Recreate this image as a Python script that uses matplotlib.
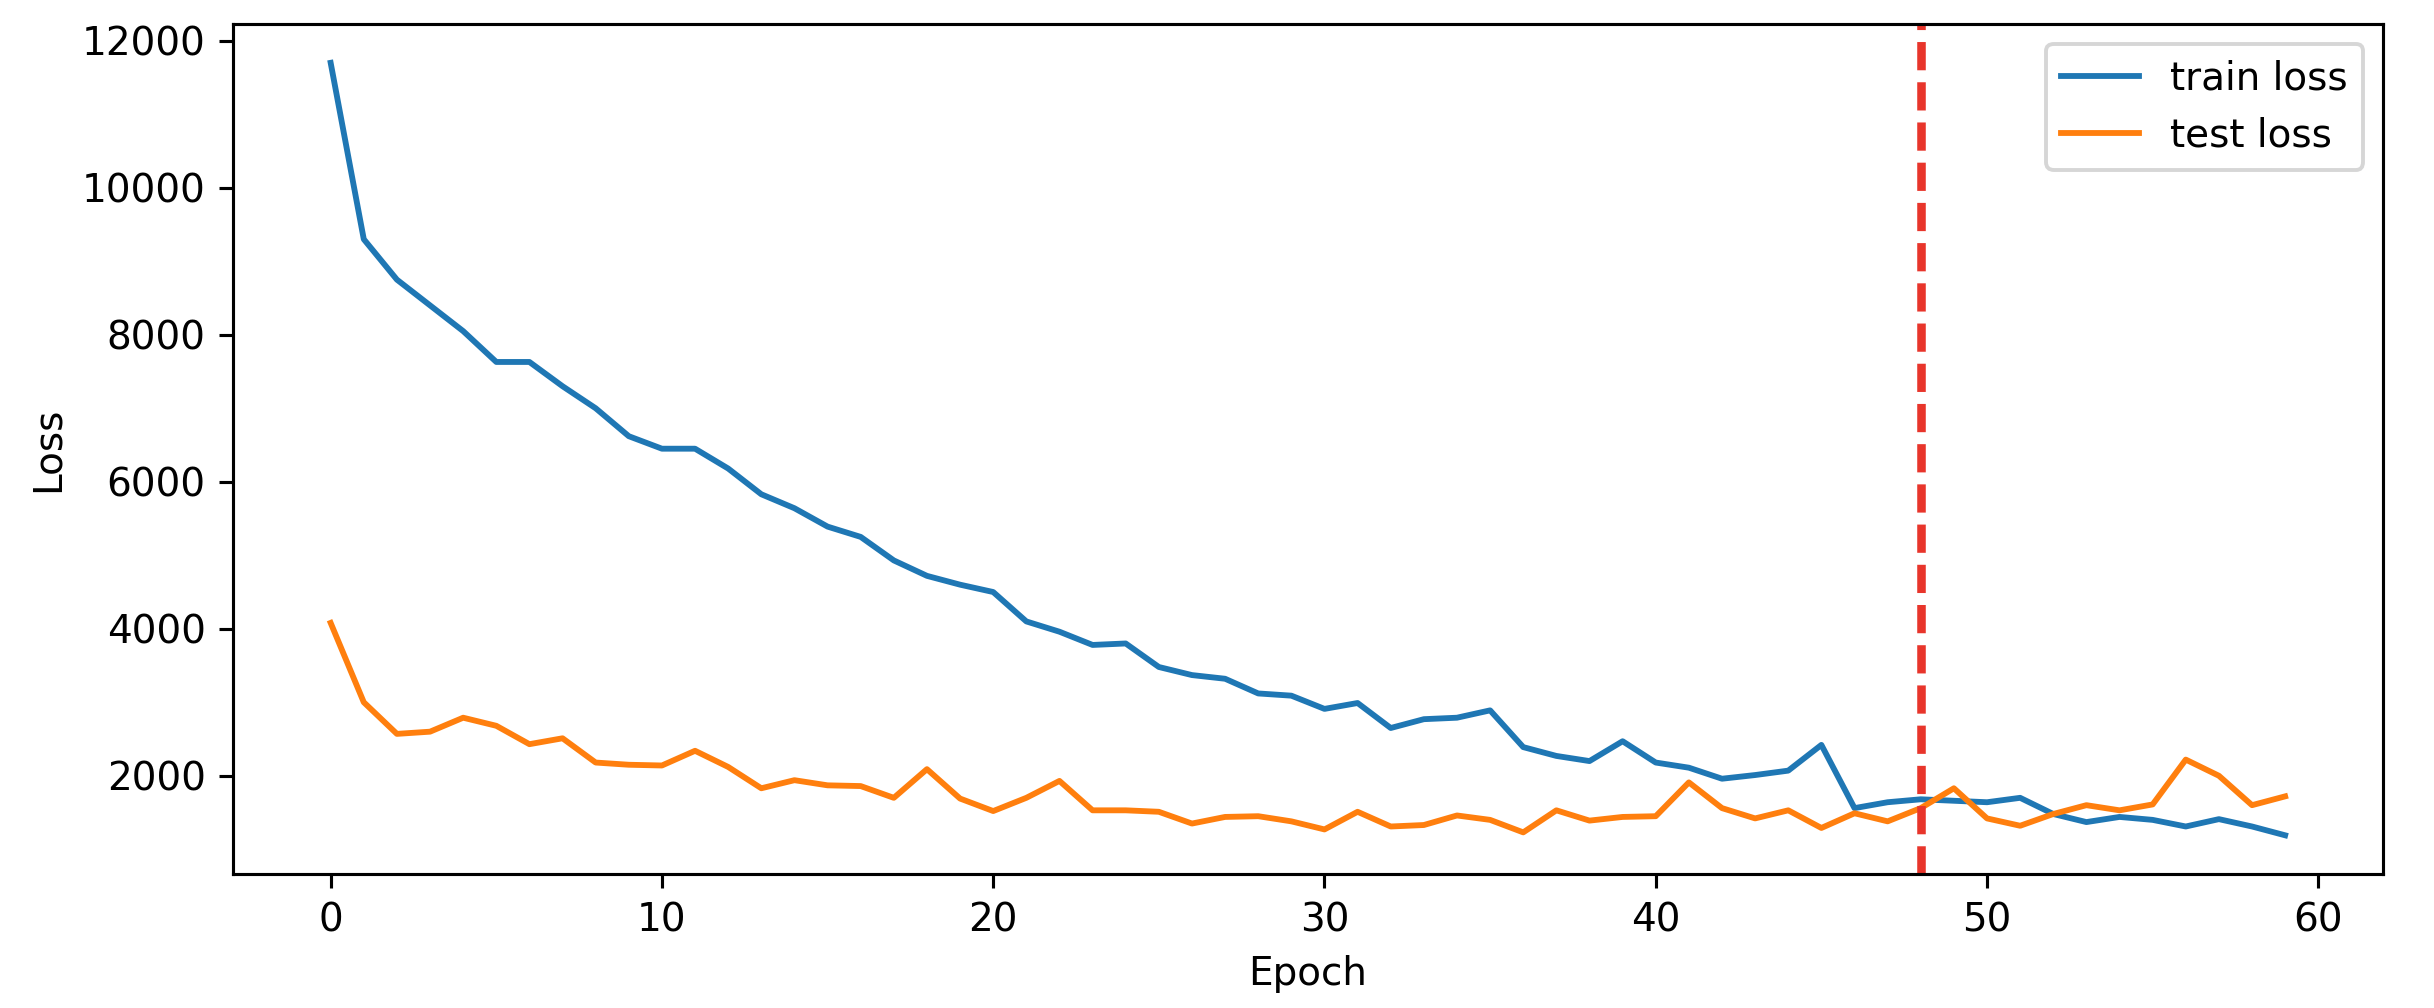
import matplotlib
matplotlib.use("Agg")
import matplotlib.pyplot as plt

train_loss = [11700, 9300, 8750, 8400, 8050, 7630, 7630, 7300, 7000, 6620,
              6450, 6450, 6180, 5830, 5640, 5390, 5250, 4930, 4720, 4600,
              4500, 4100, 3960, 3780, 3800, 3480, 3370, 3320, 3120, 3090,
              2910, 2990, 2650, 2770, 2790, 2890, 2390, 2270, 2200, 2470,
              2180, 2110, 1960, 2010, 2070, 2420, 1560, 1640, 1680, 1660,
              1640, 1700, 1480, 1370, 1440, 1400, 1310, 1410, 1310, 1190]
test_loss = [4080, 3000, 2570, 2600, 2790, 2680, 2430, 2510, 2180, 2150,
             2140, 2340, 2120, 1830, 1940, 1870, 1860, 1700, 2090, 1690,
             1520, 1700, 1930, 1530, 1530, 1510, 1350, 1440, 1450, 1380,
             1270, 1510, 1310, 1330, 1460, 1400, 1230, 1530, 1390, 1440,
             1450, 1910, 1560, 1420, 1530, 1290, 1490, 1380, 1560, 1830,
             1420, 1320, 1480, 1600, 1530, 1610, 2220, 2000, 1600, 1720]
best_epoch = 48

fig = plt.figure(figsize=(2434 / 280, 1008 / 280), dpi=280)
plt.subplots_adjust(left=0.0957, right=0.979, top=0.976, bottom=0.133)
plt.plot(train_loss, label="train loss")
plt.plot(test_loss, label="test loss")
plt.axvline(best_epoch, color="#e8352b", linestyle=(0, (3.3, 1.4)), linewidth=2.2)
plt.xlabel("Epoch")
plt.ylabel("Loss")
plt.legend()
plt.savefig("out.png", dpi=280)
